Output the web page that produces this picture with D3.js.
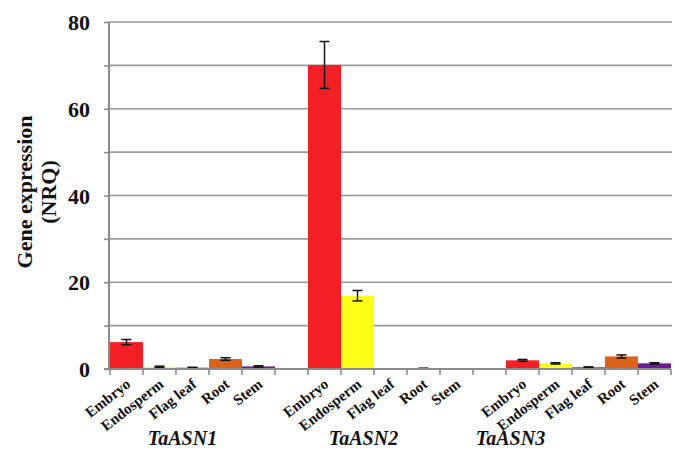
<!DOCTYPE html>
<html>
<head>
<meta charset="utf-8">
<script src="https://cdn.jsdelivr.net/npm/d3@7"></script>
<style>
  body { margin: 0; background: #fff; }
  svg text { font-family: "Liberation Serif", "Times New Roman", serif; font-weight: bold; fill: #111; }
</style>
</head>
<body>
<svg width="679" height="470"></svg>
<script>
// data
const genes = ["TaASN1", "TaASN2", "TaASN3"];
const tissues = ["Embryo", "Endosperm", "Flag leaf", "Root", "Stem"];
const tissueColours = ["#f21f24", "#ffff1c", "#3a3aff", "#d9621c", "#6b1d97"];
const values = [
  [6.2, 0.5, 0.3, 2.3, 0.6],
  [70.1, 16.9, 0, 0.1, 0],
  [2.0, 1.3, 0.4, 2.9, 1.3]
];
const errors = [
  [0.6, 0.15, 0.1, 0.3, 0.15],
  [5.4, 1.2, 0, 0.1, 0],
  [0.2, 0.15, 0.1, 0.35, 0.15]
];
const yTicks = [0, 20, 40, 60, 80];
const yGrid = [10, 20, 30, 40, 50, 60, 70, 80];

const svg = d3.select("svg");
const mLeft = 109, mRight = 672, mTop = 22, mBottom = 369;

// slots: 5 tissues + 1 empty spacer between genes
const slots = [];
genes.forEach((g, gi) => {
  tissues.forEach((t, ti) => slots.push({ id: g + "|" + t, gene: g, tissue: t, gi, ti,
    value: values[gi][ti], err: errors[gi][ti] }));
  if (gi < genes.length - 1) slots.push({ id: "gap" + gi, gap: true });
});

const x = d3.scaleBand().domain(slots.map(d => d.id)).range([110, 671]).padding(0);
const y = d3.scaleLinear().domain([0, 80]).range([mBottom, mTop]);

// gridlines
svg.append("g").selectAll("line").data(yGrid).join("line")
  .attr("x1", mLeft).attr("x2", mRight)
  .attr("y1", d => y(d)).attr("y2", d => y(d))
  .attr("stroke", "#9a9a9a").attr("stroke-width", 1.6);

// y axis
const yAxis = svg.append("g").attr("transform", `translate(${mLeft},0)`)
  .call(d3.axisLeft(y).tickValues(d3.range(0, 81, 10)).tickSize(5).tickFormat(d => yTicks.includes(d) ? d : ""));
yAxis.attr("font-family", null).attr("font-size", null);
yAxis.select(".domain").attr("stroke", "#8c8c8c").attr("stroke-width", 2).attr("d", `M0,${mBottom}V${mTop}`);
yAxis.selectAll(".tick line").attr("stroke", "#8c8c8c").attr("stroke-width", 1.6);
yAxis.selectAll(".tick text").attr("x", -19).attr("dy", "0.35em")
  .style("font-size", "22px").attr("fill", "#111");

// y title
svg.append("text")
  .attr("transform", "translate(0,192) rotate(-90)")
  .attr("text-anchor", "middle")
  .style("font-size", "22px")
  .selectAll("tspan").data(["Gene expression", "(NRQ)"]).join("tspan")
  .attr("x", 0).attr("y", (d, i) => i === 0 ? 32 : 56).text(d => d);

// bars
const barData = slots.filter(d => !d.gap);
svg.append("g").selectAll("rect").data(barData).join("rect")
  .attr("x", d => x(d.id)).attr("width", x.bandwidth())
  .attr("y", d => y(d.value)).attr("height", d => y(0) - y(d.value))
  .attr("fill", d => tissueColours[d.ti]);

// error bars
const eb = svg.append("g").attr("stroke", "#111").attr("stroke-width", 1.5);
barData.filter(d => d.err > 0).forEach(d => {
  const cx = x(d.id) + x.bandwidth() / 2;
  eb.append("line").attr("x1", cx).attr("x2", cx).attr("y1", y(d.value + d.err)).attr("y2", y(d.value - d.err));
  [d.value + d.err, d.value - d.err].forEach(v =>
    eb.append("line").attr("x1", cx - 5).attr("x2", cx + 5).attr("y1", y(v)).attr("y2", y(v)));
});

// x axis
const xg = svg.append("g");
xg.append("line").attr("x1", mLeft - 5).attr("x2", 671).attr("y1", mBottom).attr("y2", mBottom)
  .attr("stroke", "#8c8c8c").attr("stroke-width", 2);
xg.selectAll("line.tk").data(slots.map(d => x(d.id)).concat([x.range()[1]])).join("line").attr("class", "tk")
  .attr("x1", d => d).attr("x2", d => d).attr("y1", mBottom).attr("y2", mBottom + 6)
  .attr("stroke", "#8c8c8c").attr("stroke-width", 1.6);

// tissue labels
xg.selectAll("text").data(barData).join("text")
  .attr("transform", d => `translate(${x(d.id) + x.bandwidth() / 2 + 5},${mBottom + 17}) rotate(-38)`)
  .attr("text-anchor", "end")
  .style("font-size", "15px")
  .text(d => d.tissue);

// gene labels
const geneOffsets = [-10, -27, -78];
svg.append("g").selectAll("text").data(genes).join("text")
  .attr("x", (d, i) => x(d + "|" + tissues[2]) + x.bandwidth() / 2 + geneOffsets[i])
  .attr("y", 445)
  .attr("text-anchor", "middle")
  .style("font-size", "20px").style("font-style", "italic")
  .text(d => d);
</script>
</body>
</html>
